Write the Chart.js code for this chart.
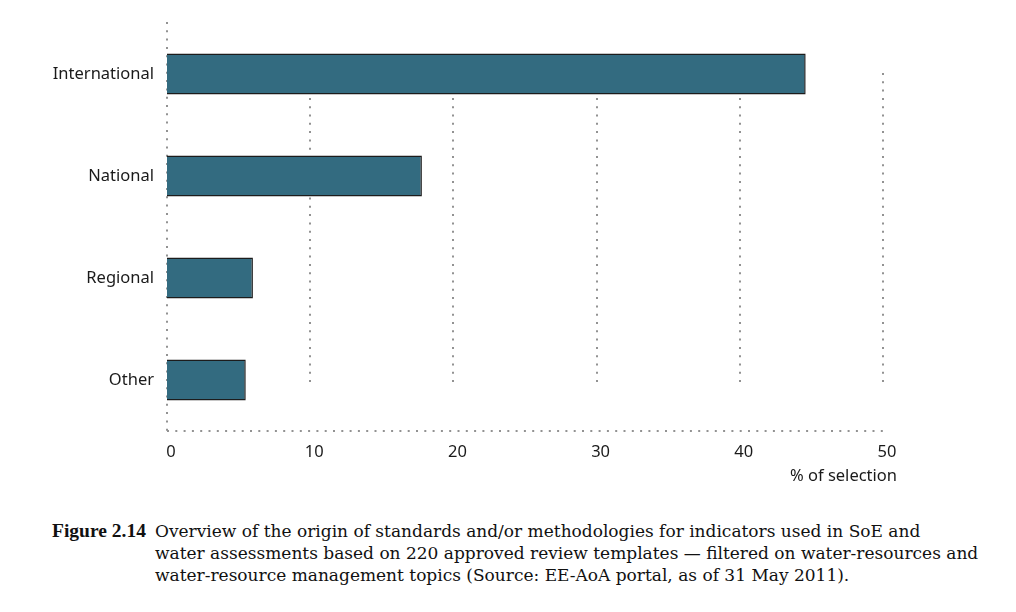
<!DOCTYPE html>
<html>
<head>
<meta charset="utf-8">
<script src="https://cdn.jsdelivr.net/npm/chart.js@4.4.0/dist/chart.umd.min.js"></script>
<style>
  html, body { margin: 0; padding: 0; background: #fff; }
  #wrap { position: relative; width: 1016px; height: 612px; overflow: hidden; }
  #chart { position: absolute; left: 0; top: 0; }
  #caption {
    position: absolute; left: 52px; top: 520px;
    font-family: "DejaVu Serif", serif; font-size: 17px; line-height: 22px;
    color: #111; display: flex; white-space: nowrap;
  }
  #caption .fig { font-family: "Liberation Serif", serif; font-weight: bold; font-size: 19.5px; line-height: 21px; width: 103px; }
</style>
</head>
<body>
<div id="wrap">
  <canvas id="chart" width="1016" height="500"></canvas>
  <div id="caption">
    <div class="fig">Figure 2.14</div>
    <div>Overview of the origin of standards and/or methodologies for indicators used in SoE and<br>water assessments based on 220 approved review templates — filtered on water-resources and<br>water-resource management topics (Source: EE-AoA portal, as of 31 May 2011).</div>
  </div>
</div>
<script>
// Chart data
const categories = ['International', 'National', 'Regional', 'Other'];
const shares = [44.6, 17.8, 6.0, 5.5];
const xTicks = [0, 10, 20, 30, 40, 50];
const axisTitle = '% of selection';

const colors = {
    bar: '#336b80',
    barBorder: '#1c1c1c',
    dots: '#929292',
    text: '#1a1a1a'
};

const labelFont = '"Noto Sans", sans-serif';

// Dotted grid + axes, drawn behind the bars
const dottedGrid = {
    id: 'dottedGrid',
    beforeDatasetsDraw(chart) {
        const { ctx, chartArea, scales: { x, y } } = chart;
        ctx.save();
        ctx.strokeStyle = colors.dots;
        ctx.lineWidth = 2;
        ctx.setLineDash([2, 6.3]);
        const gTop = y.getPixelForValue(0) - 1;
        const gBottom = y.getPixelForValue(categories.length - 1) + 3;
        xTicks.slice(1).forEach(v => {
            const px = Math.round(x.getPixelForValue(v));
            ctx.beginPath();
            ctx.moveTo(px, gTop);
            ctx.lineTo(px, gBottom);
            ctx.stroke();
        });
        // axes
        const x0 = Math.round(x.getPixelForValue(0));
        ctx.beginPath();
        ctx.moveTo(x0, chartArea.top - 1);
        ctx.lineTo(x0, chartArea.bottom);
        ctx.stroke();
        ctx.beginPath();
        ctx.moveTo(x0, chartArea.bottom);
        ctx.lineTo(chartArea.right + 1, chartArea.bottom);
        ctx.stroke();
        ctx.restore();
    },
    afterDraw(chart) {
        const { ctx, scales: { x } } = chart;
        ctx.save();
        ctx.fillStyle = colors.text;
        ctx.font = '16.5px ' + labelFont;
        ctx.textAlign = 'right';
        ctx.textBaseline = 'middle';
        ctx.fillText(axisTitle, x.getPixelForValue(50) + 14, 476);
        ctx.restore();
    }
};

new Chart(document.getElementById('chart'), {
    type: 'bar',
    data: {
        labels: categories,
        datasets: [{
            data: shares,
            backgroundColor: colors.bar,
            borderColor: colors.barBorder,
            borderWidth: 1.5,
            barPercentage: 0.4,
            categoryPercentage: 1
        }]
    },
    options: {
        indexAxis: 'y',
        responsive: false,
        animation: false,
        layout: { padding: { top: 23, right: 133, left: 0, bottom: 0 } },
        plugins: {
            legend: { display: false },
            tooltip: { enabled: false }
        },
        scales: {
            x: {
                min: 0,
                max: 50,
                afterBuildTicks: scale => { scale.ticks = xTicks.map(v => ({ value: v })); },
                afterFit: scale => { scale.height = 69; },
                grid: { display: false },
                border: { display: false },
                ticks: {
                    color: colors.text,
                    padding: 3,
                    labelOffset: 4,
                    font: { family: labelFont, size: 16.5 }
                }
            },
            y: {
                afterFit: scale => { scale.width = 167; },
                grid: { display: false },
                border: { display: false },
                ticks: {
                    color: colors.text,
                    padding: 5,
                    font: { family: labelFont, size: 16.5 }
                }
            }
        }
    },
    plugins: [dottedGrid]
});
</script>
</body>
</html>
